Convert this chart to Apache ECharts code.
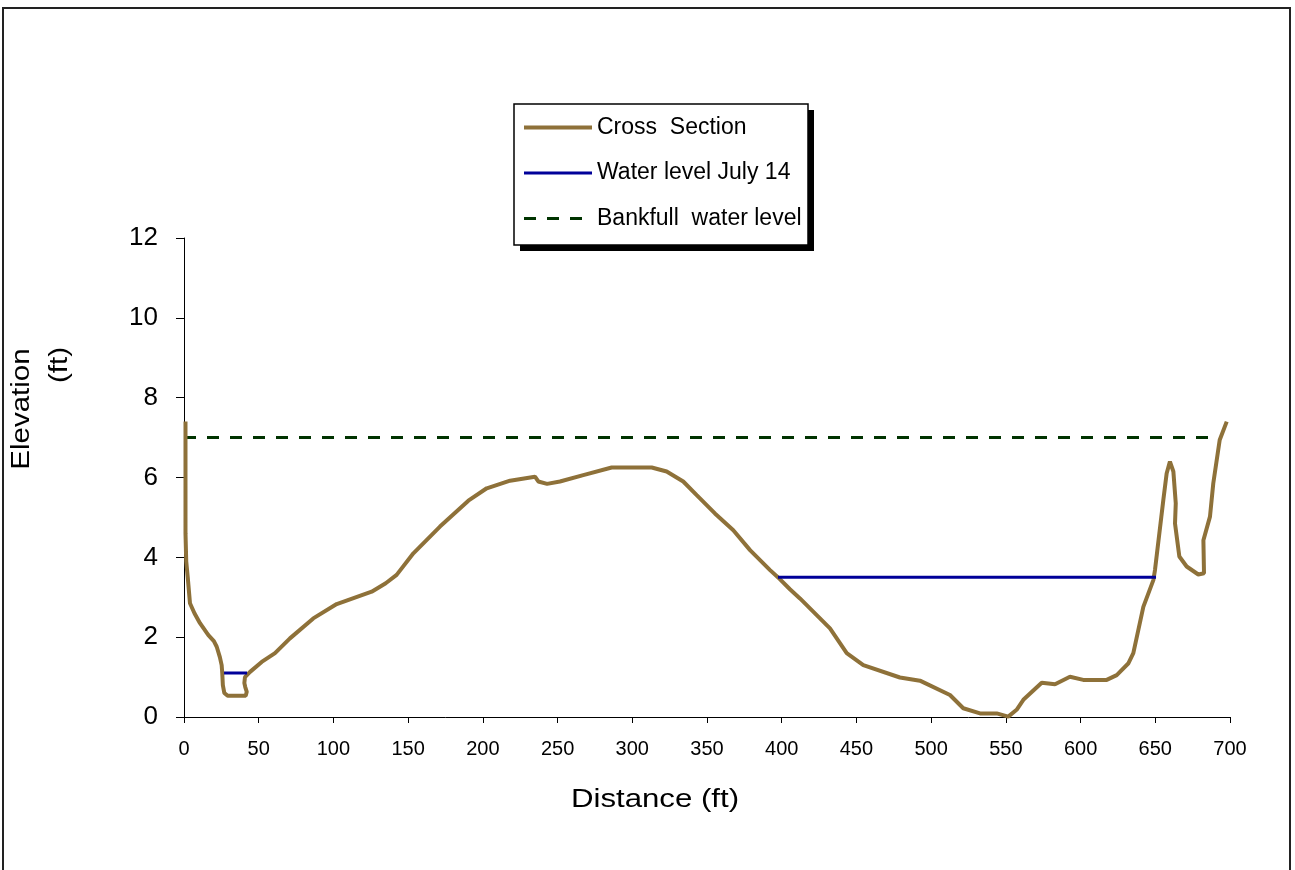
<!DOCTYPE html>
<html>
<head>
<meta charset="utf-8">
<script src="https://cdn.jsdelivr.net/npm/echarts@6/dist/echarts.min.js"></script>
<style>html,body{margin:0;padding:0;background:#fff;}#c{width:1295px;height:870px;}</style>
</head>
<body>
<div id="c"></div>
<script>
// Cross section (distance ft, elevation ft)
const crossDistance = [1, 1, 1.5, 2.5, 4, 7, 10.7, 16.3, 20, 21.9, 24, 25.2, 25.6, 26, 27, 29.2, 41.3, 42, 41, 40.4, 40.8, 44.2, 52, 60.9, 70.9, 86.5, 102.2, 125.6, 135, 142.3, 153.5, 171.3, 190.3, 202.6, 218.2, 234.9, 237.1, 243, 251.6, 267.2, 286.2, 313, 323, 334.1, 343.1, 355.3, 367.6, 378.8, 392.2, 398.9, 405.5, 412.2, 432.3, 443.5, 454.6, 479.1, 492.5, 512.6, 521.5, 532.7, 543.9, 551.6, 557.2, 561.7, 574, 582.9, 592.9, 601.8, 617.5, 624.2, 631.9, 635.3, 642, 648.7, 649.8, 655.4, 657.6, 659.8, 662.1, 663.7, 663.2, 666.1, 671, 678.8, 682.6, 682.2, 686.6, 688.8, 693.1, 697.8];
const crossElevation = [7.4, 4.6, 3.9, 3.5, 2.85, 2.6, 2.35, 2.05, 1.9, 1.76, 1.5, 1.3, 1.1, 0.8, 0.6, 0.53, 0.53, 0.63, 0.75, 0.85, 1.0, 1.13, 1.38, 1.6, 1.97, 2.47, 2.83, 3.14, 3.35, 3.56, 4.1, 4.77, 5.42, 5.73, 5.92, 6.02, 5.9, 5.84, 5.9, 6.06, 6.25, 6.25, 6.15, 5.9, 5.56, 5.1, 4.68, 4.18, 3.68, 3.45, 3.2, 2.97, 2.22, 1.6, 1.3, 0.99, 0.91, 0.55, 0.22, 0.09, 0.09, 0.01, 0.18, 0.43, 0.86, 0.82, 1.01, 0.93, 0.93, 1.05, 1.34, 1.6, 2.76, 3.43, 3.68, 5.44, 6.1, 6.4, 6.15, 5.35, 4.85, 4.02, 3.77, 3.57, 3.6, 4.43, 5.02, 5.85, 6.94, 7.4];

// Water level July 14: two pools
const waterLeftDistance = [26.8, 42.2];
const waterLeftElevation = [1.1, 1.1];
const waterRightDistance = [397.5, 650.5];
const waterRightElevation = [3.5, 3.5];

// Bankfull water level
const bankfullDistance = [0, 694];
const bankfullElevation = [7, 7];

const xTicks = {min: 0, max: 700, interval: 50};
const yTicks = {min: 0, max: 12, interval: 2};

function pairs(xs, ys) { return xs.map((x, i) => [x, ys[i]]); }

const FONT = '"Liberation Sans", Arial, sans-serif';
const BROWN = '#8E7139', NAVY = '#000099', GREEN = '#003300';
const chart = echarts.init(document.getElementById('c'), null, {renderer: 'canvas'});
chart.setOption({
  backgroundColor: '#fff',
  animation: false,
  grid: {left: 184, right: 65, top: 238, bottom: 153, containLabel: false},
  xAxis: {
    type: 'value', min: xTicks.min, max: xTicks.max, interval: xTicks.interval,
    axisLine: {lineStyle: {color: '#000', width: 1}},
    axisTick: {show: true, length: 6, lineStyle: {color: '#000'}},
    axisLabel: {color: '#000', fontSize: 20, fontFamily: FONT, margin: 22},
    splitLine: {show: false}
  },
  yAxis: {
    type: 'value', min: yTicks.min, max: yTicks.max, interval: yTicks.interval,
    axisLine: {show: true, lineStyle: {color: '#000', width: 1}},
    axisTick: {show: true, length: 8, lineStyle: {color: '#000'}},
    axisLabel: {color: '#000', fontSize: 26, fontFamily: FONT, margin: 26},
    splitLine: {show: false}
  },
  legend: {
    orient: 'vertical', left: 514, top: 105, z: 10,
    padding: [11, 8, 17, 8],
    itemGap: 22.5, itemWidth: 68, itemHeight: 18,
    itemStyle: {opacity: 0},
    textStyle: {color: '#000', fontSize: 23, fontFamily: FONT},
    data: [
      {name: 'Cross  Section', lineStyle: {color: BROWN, width: 4, opacity: 1}},
      {name: 'Water level July 14', lineStyle: {color: NAVY, width: 3, opacity: 1}},
      {name: 'Bankfull  water level', lineStyle: {color: GREEN, width: 3, type: [12, 11], opacity: 1}}
    ]
  },
  series: [
    {
      name: 'Cross  Section', type: 'line', symbol: 'none', smooth: false,
      data: pairs(crossDistance, crossElevation),
      lineStyle: {color: BROWN, width: 4}, itemStyle: {color: BROWN}, z: 3
    },
    {
      name: 'Water level July 14', type: 'line', symbol: 'none',
      data: pairs(waterLeftDistance, waterLeftElevation),
      lineStyle: {color: NAVY, width: 3}, itemStyle: {color: NAVY}, z: 4
    },
    {
      name: 'Water level July 14', type: 'line', symbol: 'none',
      data: pairs(waterRightDistance, waterRightElevation),
      lineStyle: {color: NAVY, width: 3}, itemStyle: {color: NAVY}, z: 4
    },
    {
      name: 'Bankfull  water level', type: 'line', symbol: 'none',
      data: pairs(bankfullDistance, bankfullElevation),
      lineStyle: {color: GREEN, width: 3, type: [12, 11]}, itemStyle: {color: GREEN}, z: 2
    }
  ],
  graphic: [
    {type: 'rect', z: 1, shape: {x: 3, y: 8, width: 1287, height: 900}, style: {fill: 'none', stroke: '#222', lineWidth: 2}, silent: true},
    {type: 'rect', z: 1, shape: {x: 520, y: 110, width: 294, height: 141}, style: {fill: '#000'}, silent: true},
    {type: 'rect', z: 2, shape: {x: 514, y: 104, width: 294, height: 141}, style: {fill: '#fff', stroke: '#000', lineWidth: 1.5}, silent: true},
    {type: 'text', x: 655, y: 800, scaleX: 1.2, style: {text: 'Distance (ft)', fontSize: 26, fontFamily: FONT, fill: '#000', align: 'center', verticalAlign: 'middle'}},
    {type: 'text', x: 22, y: 409, rotation: Math.PI / 2, scaleX: 1.18, style: {text: 'Elevation', fontSize: 25, fontFamily: FONT, fill: '#000', align: 'center', verticalAlign: 'middle'}},
    {type: 'text', x: 60, y: 383, rotation: Math.PI / 2, scaleX: 1.18, style: {text: '(ft)', fontSize: 25, fontFamily: FONT, fill: '#000', align: 'left', verticalAlign: 'middle'}}
  ]
});
</script>
</body>
</html>
